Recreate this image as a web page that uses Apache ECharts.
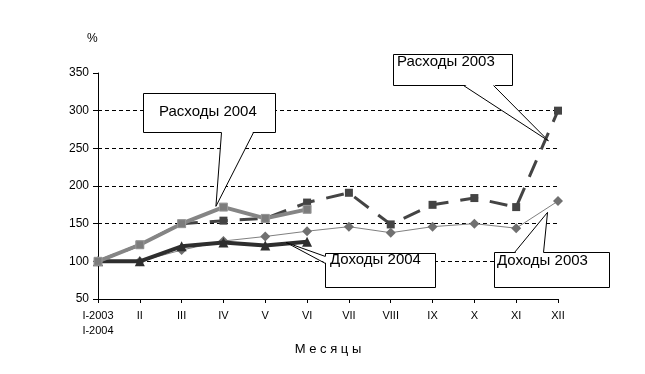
<!DOCTYPE html>
<html><head><meta charset="utf-8">
<script src="https://cdn.jsdelivr.net/npm/echarts@6/dist/echarts.min.js"></script>
<style>html,body{margin:0;padding:0;background:#fff}#c{width:645px;height:374px}</style>
</head><body><div id="c"></div>
<script>
var months = ['I-2003\nI-2004','II','III','IV','V','VI','VII','VIII','IX','X','XI','XII'];
var rashody2003 = [100,122,150,154,157,178,191,149,175,184,172,300];
var rashody2004 = [100,122,150,172,157,169];
var dohody2003  = [100,100,115,127,133,140,146,138,146,150,144,180];
var dohody2004  = [100,100,120,125,121,126];
var yTicks = {min:50, max:350, interval:50};
var seriesNames = ['Расходы 2003','Расходы 2004','Доходы 2003','Доходы 2004'];
// callout anchors in data coordinates [category position, value]
var calloutTips = [[2.82,173],[10.77,260],[4.5,125],[10.75,165]];

var FONT = '"Liberation Sans", Arial, sans-serif';
var chart = echarts.init(document.getElementById('c'), null, {renderer:'canvas'});
chart.setOption({
  animation:false,
  backgroundColor:'#fff',
  grid:{left:98, right:87, top:73, bottom:75},
  xAxis:{
    type:'category', data:months, boundaryGap:false,
    name:'М е с я ц ы', nameLocation:'middle', nameGap:36,
    nameTextStyle:{fontFamily:FONT, fontSize:13, color:'#000'},
    axisLine:{lineStyle:{color:'#000', width:1}},
    axisTick:{show:true, length:4, alignWithLabel:true, lineStyle:{color:'#000'}},
    axisLabel:{fontFamily:FONT, fontSize:11, color:'#000', margin:9, interval:0, lineHeight:15},
    splitLine:{show:false}
  },
  yAxis:{
    type:'value', min:yTicks.min, max:yTicks.max, interval:yTicks.interval,
    axisLine:{show:true, lineStyle:{color:'#000', width:1}},
    axisTick:{show:true, length:5, lineStyle:{color:'#000'}},
    axisLabel:{fontFamily:FONT, fontSize:12, color:'#000', margin:9},
    splitLine:{show:true, showMinLine:false, showMaxLine:false, lineStyle:{color:'#000', type:[4,3], width:1}}
  },
  series:[
    {name:seriesNames[0], type:'line', data:rashody2003, symbol:'rect', symbolSize:8, z:2,
     itemStyle:{color:'#444'}, lineStyle:{color:'#444', width:3, type:[18,12]}},
    {name:seriesNames[2], type:'line', data:dohody2003, symbol:'diamond', symbolSize:10, z:3,
     itemStyle:{color:'#707070'}, lineStyle:{color:'#808080', width:1}},
    {name:seriesNames[3], type:'line', data:dohody2004, symbol:'triangle', symbolSize:10, z:4,
     itemStyle:{color:'#2e2e2e'}, lineStyle:{color:'#2e2e2e', width:4}},
    {name:seriesNames[1], type:'line', data:rashody2004, symbol:'rect', symbolSize:8, z:5,
     itemStyle:{color:'#7c7c7c', borderColor:'#999', borderWidth:1}, lineStyle:{color:'#858585', width:4}}
  ]
});

function toPx(pt){
  var a = chart.convertToPixel({gridIndex:0}, [0, yTicks.min]);
  var b = chart.convertToPixel({gridIndex:0}, [months.length-1, yTicks.max]);
  return [a[0] + (b[0]-a[0]) * pt[0]/(months.length-1),
          a[1] + (b[1]-a[1]) * (pt[1]-yTicks.min)/(yTicks.max-yTicks.min)];
}

// box: [x, y, w, h], base: two points on the box edge, text offset
var callouts = [
  {label:'Расходы 2004', box:[143,93,132,39], base:[[221,132],[253,132]], tx:159, ty:104},
  {label:'Расходы 2003', box:[393,54,119,31], base:[[463,85],[493,85]], tx:397, ty:54},
  {label:'Доходы 2004', box:[325,253,110,34], base:[[325,256],[325,263]], tx:330, ty:252},
  {label:'Доходы 2003', box:[494,252,115,35], base:[[514,252],[543,252]], tx:497, ty:253}
];
var els = [];
callouts.forEach(function(c, i){
  var tip = toPx(calloutTips[i]);
  var b0 = c.base[0], b1 = c.base[1];
  els.push({type:'rect', z:100, shape:{x:c.box[0]+0.5, y:c.box[1]+0.5, width:c.box[2], height:c.box[3]},
            style:{fill:'#fff', stroke:'#000', lineWidth:1}});
  var inward = (b0[1]===b1[1]) ? (b0[1] > c.box[1] + c.box[3]/2 ? [0,-1.5] : [0,1.5]) : [1.5,0];
  els.push({type:'polygon', z:101, shape:{points:[[b0[0]+inward[0]+0.5,b0[1]+inward[1]+0.5],[tip[0],tip[1]],[b1[0]+inward[0]+0.5,b1[1]+inward[1]+0.5]]},
            style:{fill:'#fff', stroke:null}});
  els.push({type:'polyline', z:102, shape:{points:[[b0[0]+0.5,b0[1]+0.5],[tip[0],tip[1]],[b1[0]+0.5,b1[1]+0.5]]},
            style:{stroke:'#000', lineWidth:1, fill:null}});
  els.push({type:'text', z:103, x:c.tx, y:c.ty,
            style:{text:c.label, font:'15px ' + FONT, fill:'#000', textVerticalAlign:'top'}});
});
els.push({type:'text', z:103, x:87, y:33, style:{text:'%', font:'12px ' + FONT, fill:'#000', textVerticalAlign:'top'}});
chart.setOption({graphic:{elements:els}});
</script></body></html>
